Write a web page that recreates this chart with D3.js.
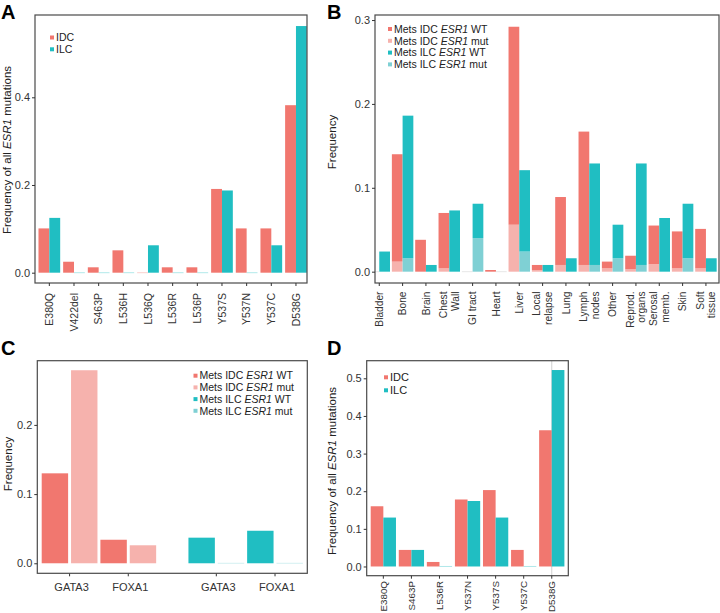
<!DOCTYPE html>
<html><head><meta charset="utf-8">
<script src="https://cdn.jsdelivr.net/npm/d3@7"></script>
<style>
body{margin:0;background:#fff;}
text{font-family:"Liberation Sans",Arial,Helvetica,sans-serif;}
</style></head>
<body>
<svg id="chart" width="720" height="613"></svg>
<script>
// ---------- DATA ----------
// Panel A
const aCats = ["E380Q","V422del","S463P","L536H","L536Q","L536R","L536P","Y537S","Y537N","Y537C","D538G"];
const aIDC  = [0.101,0.025,0.0123,0.051,0,0.0123,0.0123,0.191,0.101,0.101,0.382];
const aILC  = [0.125,0,0,0,0.0625,0,0,0.1875,0,0.0625,0.5625];
const aTicks = [0.0,0.2,0.4];
// Panel B
const bCats = ["Bladder","Bone","Brain","Chest\nWall","GI tract","Heart","Liver","Local\nrelapse","Lung","Lymph\nnodes","Other","Reprod.\norgans","Serosal\nmemb.","Skin","Soft\ntissue"];
const bIDCwt  = [0,0.128,0.038,0.066,0,0.002,0.236,0.006,0.081,0.159,0.008,0.016,0.046,0.044,0.047];
const bIDCmut = [0,0.012,0,0.004,0,0,0.056,0.002,0.008,0.008,0.004,0.003,0.009,0.004,0.004];
const bILCwt  = [0.024,0.170,0.008,0.073,0.041,0,0.097,0.008,0.016,0.121,0.040,0.121,0.064,0.065,0.016];
const bILCmut = [0,0.016,0,0,0.040,0,0.024,0,0,0.008,0.016,0.008,0,0.016,0];
const bTicks = [0.0,0.1,0.2,0.3];
// Panel C
const cGenes = ["GATA3","FOXA1","GATA3","FOXA1"];
const cGroup = ["IDC","IDC","ILC","ILC"];
const cWT  = [0.130,0.034,0.037,0.047];
const cMut = [0.279,0.026,0,0];
const cTicks = [0.0,0.1,0.2];
// Panel D
const dCats = ["E380Q","S463P","L536R","Y537N","Y537S","Y537C","D538G"];
const dIDC  = [0.160,0.044,0.012,0.178,0.203,0.044,0.362];
const dILC  = [0.130,0.044,0,0.174,0.130,0,0.522];
const dTicks = [0.0,0.1,0.2,0.3,0.4,0.5];
// Legends
const legend2 = ["IDC","ILC"];
const legend4 = [["Mets IDC ","ESR1"," WT"],["Mets IDC ","ESR1"," mut"],["Mets ILC ","ESR1"," WT"],["Mets ILC ","ESR1"," mut"]];

// ---------- STYLE ----------
const COL = {idcWT:"#F1776F", idcMut:"#F6B2AD", ilcWT:"#20BEC2", ilcMut:"#7FD0D4"};
const col2 = [COL.idcWT, COL.ilcWT];
const col4 = [COL.idcWT, COL.idcMut, COL.ilcWT, COL.ilcMut];
const TXT = "#333";
const svg = d3.select("#chart");

function frame(g, x0, y0, x1, y1){
  g.append("rect").attr("x",x0).attr("y",y0).attr("width",x1-x0).attr("height",y1-y0)
   .attr("fill","none").attr("stroke","#4a4a4a").attr("stroke-width",1.2);
}
function yAxis(g, y, x0, ticks){
  const ax = d3.axisLeft(y).tickValues(ticks).tickFormat(d3.format(".1f")).tickSize(3).tickPadding(2);
  const a = g.append("g").attr("transform",`translate(${x0},0)`).call(ax);
  a.select(".domain").remove();
  a.selectAll("line").attr("stroke","#333");
  a.selectAll("text").attr("fill",TXT).style("font-size","11px").style("font-family","Liberation Sans, Arial");
}
function yTitle(g, x, y, parts){
  const t = g.append("text").attr("transform",`translate(${x},${y}) rotate(-90)`)
    .attr("text-anchor","middle").attr("fill","#222").style("font-size","11.5px");
  parts.forEach(p=>t.append("tspan").text(p[0]).style("font-style",p[1]?"italic":"normal"));
}
function xLabelsRot(g, x, cats, yTop, fs, lh){
  cats.forEach(c=>{
    const lines = c.split("\n");
    const t = g.append("text").attr("transform",`translate(${x(c)+x.bandwidth()/2},${yTop}) rotate(-90)`)
      .attr("text-anchor","end").attr("fill",TXT).style("font-size",fs+"px");
    lines.forEach((l,i)=>{
      const off = (i-(lines.length-1)/2)*lh + fs*0.35;
      t.append("tspan").attr("x",0).attr("y",off).text(l);
    });
  });
}
function xTicks(g, xs, yb){
  xs.forEach(v=>g.append("line").attr("x1",v).attr("x2",v).attr("y1",yb).attr("y2",yb+3).attr("stroke","#333"));
}
function panelLabel(x,y,t){
  svg.append("text").attr("x",x).attr("y",y).text(t).style("font-size","20px").style("font-weight","bold").attr("fill","#000");
}
function zeroLine(g, x, w, y0, color){
  g.append("rect").attr("x",x).attr("y",y0-0.5).attr("width",w).attr("height",1).attr("fill",color).attr("opacity",0.35);
}
function legend(g, x, y, dy, items, colors, fs){
  items.forEach((it,i)=>{
    g.append("rect").attr("x",x).attr("y",y+i*dy-2).attr("width",4).attr("height",4).attr("fill",colors[i]);
    const t = g.append("text").attr("x",x+6).attr("y",y+i*dy+fs*0.36).attr("fill","#222").style("font-size",fs+"px");
    const parts = Array.isArray(it)?it:[it];
    parts.forEach((p,j)=>t.append("tspan").text(p).style("font-style",j===1?"italic":"normal"));
  });
}

// ---------- PANEL A ----------
(function(){
  const g = svg.append("g");
  const F = {x0:35,y0:15,x1:307,y1:283};
  const y = d3.scaleLinear().domain([-0.0235,0.5877]).range([F.y1,F.y0]);
  const x = d3.scaleBand().domain(aCats).range([37,308.3]);
  const bw = x.bandwidth()*0.44;
  const series = [aIDC,aILC];
  series.forEach((vals,s)=>{
    aCats.forEach((c,i)=>{
      const cx = x(c)+x.bandwidth()/2;
      const bx = s===0 ? cx-bw : cx;
      if(vals[i]>0){
        g.append("rect").attr("x",bx).attr("width",bw).attr("y",y(vals[i])).attr("height",y(0)-y(vals[i])).attr("fill",col2[s]);
      } else zeroLine(g,bx,bw,y(0),col2[s]);
    });
  });
  frame(g,F.x0,F.y0,F.x1,F.y1);
  yAxis(g,y,F.x0,aTicks);
  xTicks(g,aCats.map(c=>x(c)+x.bandwidth()/2),F.y1);
  xLabelsRot(g,x,aCats,293,10.5,12);
  yTitle(g,11,150,[["Frequency of all ",false],["ESR1",true],[" mutations",false]]);
  legend(g,50,37.5,11.8,legend2,col2,10.5);
  panelLabel(1,19,"A");
})();

// ---------- PANEL B ----------
(function(){
  const g = svg.append("g");
  const F = {x0:375,y0:15,x1:719,y1:283};
  svg.append("clipPath").attr("id","clipB").append("rect").attr("x",F.x0).attr("y",F.y0).attr("width",F.x1-F.x0).attr("height",F.y1-F.y0);
  const y = d3.scaleLinear().domain([-0.0135,0.306]).range([F.y1,F.y0]);
  const x = d3.scaleBand().domain(bCats).range([367.6,717.6]);
  const bw = x.bandwidth()*0.46;
  const gb = g.append("g").attr("clip-path","url(#clipB)");
  const groups = [[bIDCmut,bIDCwt,COL.idcMut,COL.idcWT],[bILCmut,bILCwt,COL.ilcMut,COL.ilcWT]];
  groups.forEach((gr,s)=>{
    bCats.forEach((c,i)=>{
      const cx = x(c)+x.bandwidth()/2;
      const bx = s===0 ? cx-bw : cx;
      const m = gr[0][i], w = gr[1][i];
      if(m+w===0){ zeroLine(gb,bx,bw,y(0),"#bbb"); return; }
      if(m>0) gb.append("rect").attr("x",bx).attr("width",bw).attr("y",y(m)).attr("height",y(0)-y(m)).attr("fill",gr[2]);
      if(w>0) gb.append("rect").attr("x",bx).attr("width",bw).attr("y",y(m+w)).attr("height",y(m)-y(m+w)).attr("fill",gr[3]);
    });
  });
  frame(g,F.x0,F.y0,F.x1,F.y1);
  yAxis(g,y,F.x0,bTicks);
  xTicks(g,bCats.map(c=>x(c)+x.bandwidth()/2),F.y1);
  xLabelsRot(g,x,bCats,291.5,10.2,12);
  yTitle(g,336,142,[["Frequency",false]]);
  legend(g,388,29,11.8,legend4,col4,10.5);
  panelLabel(327,19,"B");
})();

// ---------- PANEL C ----------
(function(){
  const g = svg.append("g");
  const F = {x0:37.3,y0:360.7,x1:307.3,y1:573.3};
  const y = d3.scaleLinear().domain([-0.0145,0.2928]).range([F.y1,F.y0]);
  // slot positions: IDC groups in slots 0-3, ILC groups in slots 5-8
  const x = d3.scaleLinear().domain([-0.6,8.6]).range([F.x0,F.x1]);
  const unit = x(1)-x(0), bw = unit*0.9;
  cGenes.forEach((gene,i)=>{
    const base = (cGroup[i]==="IDC"?0:5) + (i%2)*2;
    const wtCol = cGroup[i]==="IDC"?COL.idcWT:COL.ilcWT;
    const muCol = cGroup[i]==="IDC"?COL.idcMut:COL.ilcMut;
    [[cWT[i],wtCol,base],[cMut[i],muCol,base+1]].forEach(([v,colr,slot])=>{
      const bx = x(slot)-bw/2;
      if(v>0) g.append("rect").attr("x",bx).attr("width",bw).attr("y",y(v)).attr("height",y(0)-y(v)).attr("fill",colr);
      else zeroLine(g,bx,bw,y(0),colr);
    });
    const lx = x(base+0.5);
    g.append("line").attr("x1",lx).attr("x2",lx).attr("y1",F.y1).attr("y2",F.y1+3).attr("stroke","#333");
    g.append("text").attr("x",lx+2).attr("y",590.5).attr("text-anchor","middle").attr("fill",TXT).style("font-size","11px").text(gene);
  });
  frame(g,F.x0,F.y0,F.x1,F.y1);
  yAxis(g,y,F.x0,cTicks);
  yTitle(g,12,464,[["Frequency",false]]);
  legend(g,193.5,375.7,11.7,legend4,col4,10.5);
  panelLabel(1,355,"C");
})();

// ---------- PANEL D ----------
(function(){
  const g = svg.append("g");
  const F = {x0:366.7,y0:360.7,x1:568.3,y1:575.7};
  const y = d3.scaleLinear().domain([-0.0245,0.5468]).range([F.y1,F.y0]);
  const x = d3.scaleBand().domain(dCats).range([369.3,565.8]);
  const bw = x.bandwidth()*0.45;
  // faint vertical guide at last category
  const lastX = x(dCats[dCats.length-1])+x.bandwidth()/2;
  g.append("line").attr("x1",lastX).attr("x2",lastX).attr("y1",F.y0).attr("y2",F.y1).attr("stroke","#d0d0d0").attr("stroke-width",1);
  [dIDC,dILC].forEach((vals,s)=>{
    dCats.forEach((c,i)=>{
      const cx = x(c)+x.bandwidth()/2;
      const bx = s===0 ? cx-bw : cx;
      if(vals[i]>0) g.append("rect").attr("x",bx).attr("width",bw).attr("y",y(vals[i])).attr("height",y(0)-y(vals[i])).attr("fill",col2[s]);
      else zeroLine(g,bx,bw,y(0),col2[s]);
    });
  });
  frame(g,F.x0,F.y0,F.x1,F.y1);
  yAxis(g,y,F.x0,dTicks);
  xTicks(g,dCats.map(c=>x(c)+x.bandwidth()/2),F.y1);
  xLabelsRot(g,x,dCats,581,9.8,12);
  yTitle(g,336,471,[["Frequency of all ",false],["ESR1",true],[" mutations",false]]);
  legend(g,384,377.3,13,legend2,col2,11);
  panelLabel(327,355,"D");
})();
</script>
</body></html>
